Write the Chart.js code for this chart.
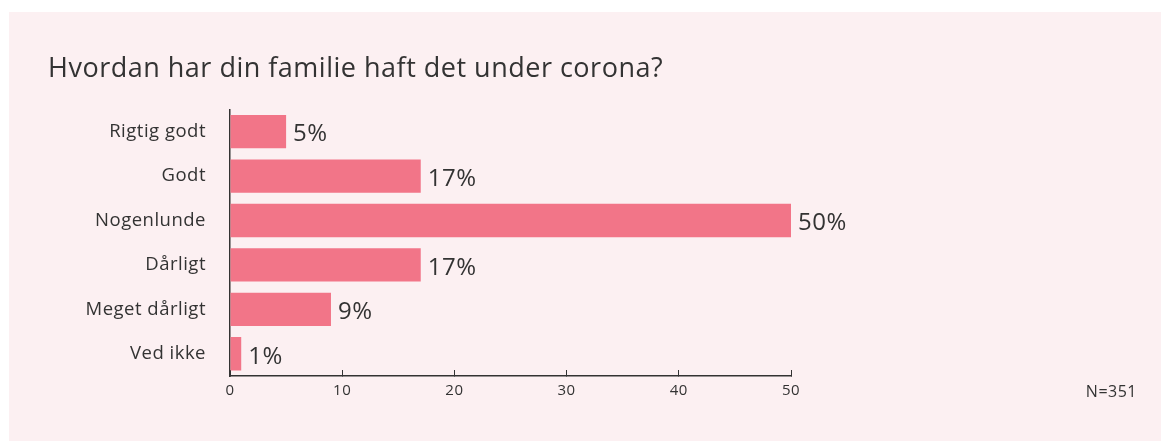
<!DOCTYPE html>
<html lang="da">
<head>
<meta charset="utf-8">
<title>Hvordan har din familie haft det under corona?</title>
<script src="https://cdn.jsdelivr.net/npm/chart.js@4/dist/chart.umd.min.js"></script>
<style>
    html, body { margin: 0; padding: 0; background: #ffffff; }
    .panel {
        position: absolute;
        left: 9px;
        top: 12px;
        width: 1152px;
        height: 429px;
        background: #fcf0f2;
    }
</style>
</head>
<body>
<div class="panel">
    <canvas id="familyChart" width="1152" height="429"></canvas>
</div>
<script>
// Data
const categories = ['Rigtig godt', 'Godt', 'Nogenlunde', 'Dårligt', 'Meget dårligt', 'Ved ikke'];
const percentages = [5, 17, 50, 17, 9, 1];
const xTicks = [0, 10, 20, 30, 40, 50];
const chartTitle = 'Hvordan har din familie haft det under corona?';
const sampleNote = 'N=351';

const textColor = '#333333';
const barColor = '#f27588';

/**
 * Spasi huruf sedikit lebih lebar (font aslinya lebar)
 */
const letterSpacing = {
    id: 'letterSpacing',
    beforeDraw(chart) {
        chart.ctx.letterSpacing = '0.5px';
    }
};

/**
 * Label persen di ujung bar
 */
const valueLabels = {
    id: 'valueLabels',
    afterDatasetsDraw(chart) {
        const ctx = chart.ctx;
        const meta = chart.getDatasetMeta(0);
        ctx.save();
        ctx.font = '24px "Open Sans"';
        ctx.fillStyle = textColor;
        ctx.textAlign = 'left';
        ctx.textBaseline = 'middle';
        meta.data.forEach((bar, i) => {
            ctx.fillText(percentages[i] + '%', bar.x + 7, bar.y + 3);
        });
        ctx.restore();
    }
};

/**
 * Catatan N di pojok kanan bawah
 */
const nNote = {
    id: 'nNote',
    afterDraw(chart) {
        const ctx = chart.ctx;
        ctx.save();
        ctx.font = '16px "Open Sans"';
        ctx.fillStyle = textColor;
        ctx.textAlign = 'right';
        ctx.textBaseline = 'middle';
        ctx.fillText(sampleNote, chart.width - 24, chart.chartArea.bottom + 16);
        ctx.restore();
    }
};

document.addEventListener('DOMContentLoaded', function() {
    initFamilyChart();
});

function initFamilyChart() {
    const canvas = document.getElementById('familyChart');
    if (!canvas) return;

    Chart.defaults.font.family = '"Open Sans", sans-serif';
    Chart.defaults.color = textColor;

    new Chart(canvas.getContext('2d'), {
        type: 'bar',
        data: {
            labels: categories,
            datasets: [{
                data: percentages,
                backgroundColor: barColor,
                barPercentage: 0.75,
                categoryPercentage: 1
            }]
        },
        options: {
            indexAxis: 'y',
            responsive: false,
            animation: false,
            layout: {
                padding: { left: 39, right: 370, top: 0, bottom: 0 }
            },
            plugins: {
                legend: { display: false },
                tooltip: { enabled: false },
                title: {
                    display: true,
                    text: chartTitle,
                    align: 'start',
                    color: textColor,
                    font: { size: 27, weight: 'normal' },
                    padding: { top: 41, bottom: 24 }
                }
            },
            scales: {
                x: {
                    min: 0,
                    max: 50,
                    afterFit(scale) { scale.height = 65; },
                    afterBuildTicks(scale) {
                        scale.ticks = xTicks.map(v => ({ value: v }));
                    },
                    grid: {
                        drawOnChartArea: false,
                        drawTicks: true,
                        tickLength: -6,
                        color: textColor,
                        lineWidth: 1
                    },
                    border: { display: true, color: textColor, width: 1.5 },
                    ticks: {
                        padding: 12,
                        color: textColor,
                        font: { size: 15 }
                    }
                },
                y: {
                    afterFit(scale) { scale.width = 182; },
                    grid: { display: false, drawTicks: false },
                    border: { display: true, color: textColor, width: 1.5 },
                    ticks: {
                        padding: 24,
                        color: textColor,
                        font: { size: 18.5 }
                    }
                }
            }
        },
        plugins: [letterSpacing, valueLabels, nNote]
    });
}
</script>
</body>
</html>
